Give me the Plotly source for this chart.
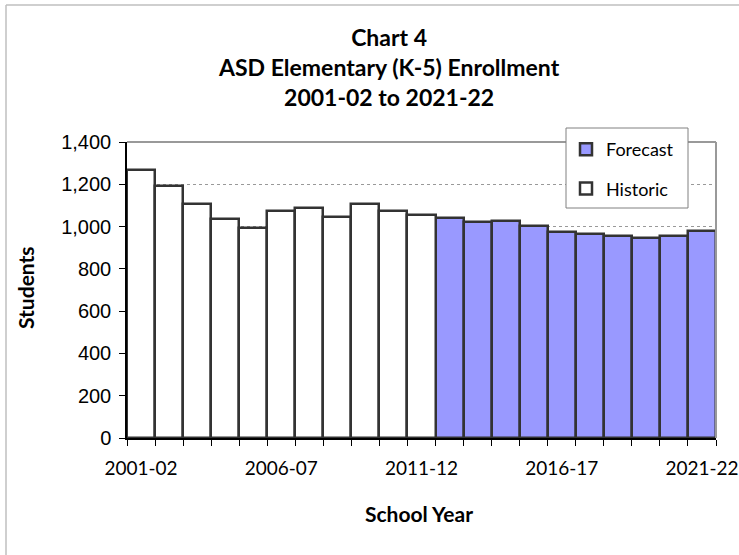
import plotly.graph_objects as go

years = ["2001-02", "2002-03", "2003-04", "2004-05", "2005-06", "2006-07", "2007-08",
         "2008-09", "2009-10", "2010-11", "2011-12", "2012-13", "2013-14", "2014-15",
         "2015-16", "2016-17", "2017-18", "2018-19", "2019-20", "2020-21", "2021-22"]
historic = [1268, 1194, 1108, 1037, 993, 1075, 1088, 1047, 1108, 1074, 1055]
forecast = [1041, 1022, 1025, 1004, 973, 963, 954, 944, 957, 977]
label_years = ["2001-02", "2006-07", "2011-12", "2016-17", "2021-22"]

idx = list(range(len(years)))
hist_x = idx[:len(historic)]
fc_x = idx[len(historic):]

W, H = 739, 555
L, R, T, B = 127, 716, 142, 438

def px(x):
    return (x - L) / (R - L)

def py(y):
    return (B - y) / (B - T)

fig = go.Figure()
fig.add_trace(go.Bar(x=fc_x, y=forecast, name="Forecast", legendgroup="f",
                     marker=dict(color="#9999FF", line=dict(color="#333333", width=2.5)),
                     width=1))
fig.add_trace(go.Bar(x=hist_x, y=historic, name="Historic", legendgroup="h",
                     marker=dict(color="#FFFFFF", line=dict(color="#333333", width=2.5)),
                     width=1))

fig.update_layout(
    width=W, height=H,
    margin=dict(l=L, r=W - R, t=T, b=H - B, pad=0, autoexpand=False),
    paper_bgcolor="white", plot_bgcolor="white",
    barmode="overlay", bargap=0,
    showlegend=True,
    legend=dict(x=px(566), y=py(131), xanchor="left", yanchor="top",
                bgcolor="rgba(0,0,0,0)", borderwidth=0,
                font=dict(family="Lato", size=18, color="black"),
                tracegroupgap=13, traceorder="grouped"),
    xaxis=dict(range=[-0.5, len(years) - 0.5], automargin=False,
               tickmode="array",
               tickvals=[years.index(y) for y in label_years],
               ticktext=label_years,
               ticks="", showgrid=False, zeroline=False,
               showline=True, linecolor="black", linewidth=1.5,
               tickfont=dict(family="Lato", size=19, color="black"),
               minor=dict(tickmode="linear", tick0=-0.5, dtick=1, ticks="outside",
                          ticklen=6, tickcolor="black", tickwidth=1, showgrid=False),
               ticklabelstandoff=12),
    yaxis=dict(range=[0, 1400], dtick=200, tickformat=",", automargin=False,
               ticks="outside", ticklen=6, tickcolor="black", tickwidth=1,
               showline=True, linecolor="black", linewidth=1.5,
               showgrid=True, gridcolor="#999999", griddash="dot", gridwidth=1,
               zeroline=False,
               tickfont=dict(family="Liberation Sans, Arial", size=20, color="black"),
               ticklabelstandoff=4),
    shapes=[
        dict(type="line", xref="paper", yref="paper", x0=0, x1=1, y0=1, y1=1,
             line=dict(color="#999999", width=2)),
        dict(type="line", xref="paper", yref="paper", x0=1, x1=1, y0=0, y1=1,
             line=dict(color="#999999", width=2)),
        dict(type="rect", xref="paper", yref="paper", layer="above",
             x0=px(566), x1=px(688), y0=py(208), y1=py(128),
             fillcolor="white", line=dict(color="#808080", width=1)),
        dict(type="line", xref="paper", yref="paper", x0=px(6), x1=px(W + 5), y0=py(5), y1=py(5),
             line=dict(color="#BFBFBF", width=1.5)),
        dict(type="line", xref="paper", yref="paper", x0=px(6), x1=px(6), y0=py(5), y1=py(H + 5),
             line=dict(color="#BFBFBF", width=1.5)),
    ],
    annotations=[
        dict(text="<b>Chart 4</b><br><b>ASD Elementary (K-5) Enrollment</b><br><b>2001-02 to 2021-22</b>",
             xref="paper", yref="paper", x=px(389), y=py(67), xanchor="center", yanchor="middle",
             showarrow=False, font=dict(family="Lato", size=23, color="black")),
        dict(text="<b>School Year</b>", xref="paper", yref="paper", x=px(419), y=py(513),
             xanchor="center", yanchor="middle", showarrow=False,
             font=dict(family="Lato", size=21, color="black")),
        dict(text="<b>Students</b>", xref="paper", yref="paper", x=px(25), y=py(288),
             xanchor="center", yanchor="middle", textangle=-90, showarrow=False,
             font=dict(family="Lato", size=21, color="black")),
    ],
)

fig.write_html("out.html")
